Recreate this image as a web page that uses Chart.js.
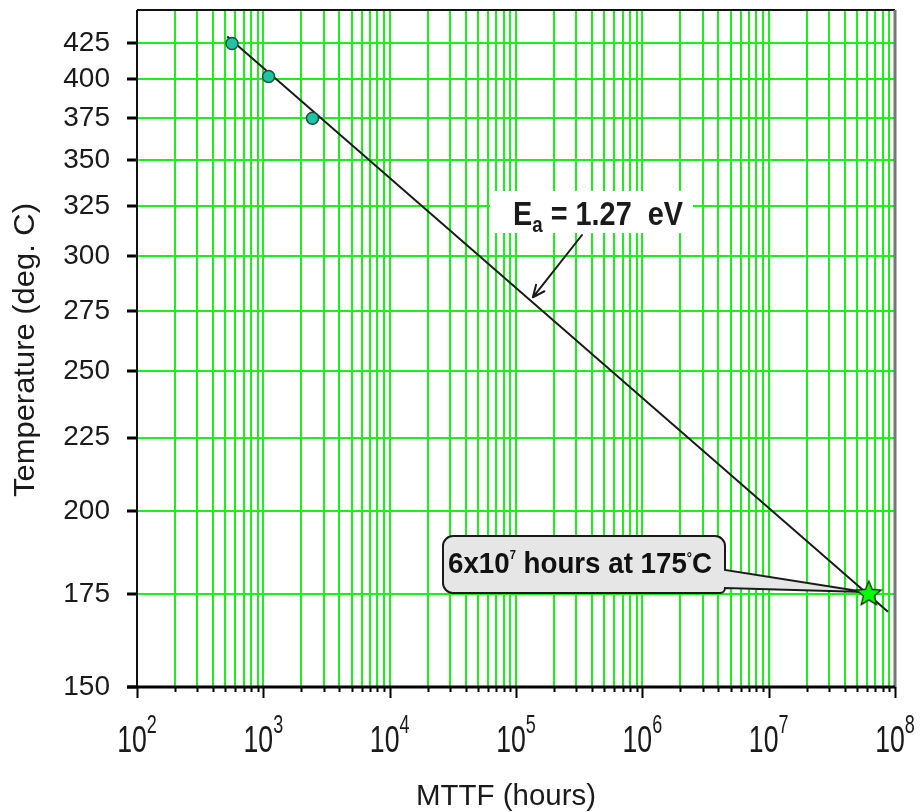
<!DOCTYPE html>
<html>
<head>
<meta charset="utf-8">
<script src="https://cdn.jsdelivr.net/npm/chart.js@4.4.0/dist/chart.umd.min.js"></script>
<style>
  html, body { margin: 0; padding: 0; background: #fff; }
  canvas { display: block; }
</style>
</head>
<body>
<canvas id="chart" width="920" height="812"></canvas>
<script>
// test results
const testTemps = [425, 402, 375];
const testHours = [565, 1100, 2450];
// extrapolated use condition
const useTemps = [175];
const useHours = [6.2e7];
// fitted line, end points
const fitTemps = [430, 170];
const fitHours = [518, 8.8e7];

// axes
const tempTicks = [150, 175, 200, 225, 250, 275, 300, 325, 350, 375, 400, 425];
const tempRange = [150, 450];
const hourRange = [1e2, 1e8];
const hourDecades = [2, 3, 4, 5, 6, 7, 8];
const hourMantissas = [1, 2, 3, 4, 5, 6, 7, 8, 9];

// reciprocal temperature axis (offset fitted to the original tick spacing)
const T_OFFSET = 250;
const recip = t => 1000 / (t + T_OFFSET);
const fromRecip = v => 1000 / v - T_OFFSET;

const hourTicks = [];
hourDecades.forEach(e => {
  hourMantissas.forEach(m => {
    const v = m * Math.pow(10, e);
    if (v <= hourRange[1]) hourTicks.push({ value: v, major: m === 1 });
  });
});

const toPts = (hours, temps) => hours.map((h, i) => ({ x: h, y: recip(temps[i]) }));

const GRID = '#1bf01b';
const FONT = '"Liberation Sans", Arial, sans-serif';

function starImage(r, fill) {
  const c = document.createElement('canvas');
  const s = Math.ceil(r * 2 + 4);
  c.width = c.height = s;
  const g = c.getContext('2d');
  g.beginPath();
  for (let i = 0; i < 10; i++) {
    const rad = i % 2 ? r * 0.45 : r;
    const a = -Math.PI / 2 + i * Math.PI / 5;
    g.lineTo(s / 2 + rad * Math.cos(a), s / 2 + rad * Math.sin(a));
  }
  g.closePath();
  g.fillStyle = fill;
  g.fill();
  g.lineWidth = 1.3;
  g.strokeStyle = '#0d300d';
  g.stroke();
  return c;
}

// draws a run of text pieces, squeezed horizontally by sx
function drawRich(ctx, parts, x, y, sx, align) {
  ctx.save();
  let natural = 0;
  parts.forEach(p => {
    ctx.font = p.font;
    p.w = ctx.measureText(p.text).width;
    natural += p.w;
  });
  ctx.translate(x, y);
  ctx.scale(sx, 1);
  let cx = align === 'center' ? -natural / 2 : 0;
  ctx.textBaseline = 'alphabetic';
  ctx.textAlign = 'left';
  parts.forEach(p => {
    ctx.font = p.font;
    ctx.fillText(p.text, cx, p.dy || 0);
    cx += p.w;
  });
  ctx.restore();
  return natural * sx;
}

function fitWidth(ctx, parts, target) {
  let natural = 0;
  parts.forEach(p => { ctx.font = p.font; natural += ctx.measureText(p.text).width; });
  return target / natural;
}

const annotations = {
  id: 'annotations',
  beforeDatasetsDraw(chart) {
    const ctx = chart.ctx;
    const x = chart.scales.x, y = chart.scales.y;

    // Ea label
    ctx.save();
    ctx.fillStyle = '#fff';
    ctx.fillRect(490, 191, 203, 42);
    const ea = [
      { text: 'E', font: 'bold 34px ' + FONT },
      { text: 'a', font: 'bold 22px ' + FONT, dy: 7 },
      { text: ' = 1.27  eV', font: 'bold 34px ' + FONT }
    ];
    ctx.fillStyle = '#1a1a1a';
    drawRich(ctx, ea, 513, 225, fitWidth(ctx, ea, 170));

    // arrow to the fitted line
    const tipX = x.getPixelForValue(1.36e5), tipY = y.getPixelForValue(recip(281));
    const sx0 = 582, sy0 = 235;
    ctx.strokeStyle = '#1a1a1a';
    ctx.lineWidth = 2;
    ctx.lineCap = 'round';
    ctx.beginPath();
    ctx.moveTo(sx0, sy0);
    ctx.lineTo(tipX, tipY);
    const ang = Math.atan2(tipY - sy0, tipX - sx0);
    [0.42, -0.42].forEach(d => {
      ctx.moveTo(tipX, tipY);
      ctx.lineTo(tipX - 13 * Math.cos(ang + d), tipY - 13 * Math.sin(ang + d));
    });
    ctx.stroke();

    // callout to the use condition
    const px = x.getPixelForValue(useHours[0]) - 4;
    const py = y.getPixelForValue(recip(useTemps[0])) - 2;
    const L = 443, R = 725, T = 536, B = 593, r = 10;
    ctx.beginPath();
    ctx.moveTo(L + r, T);
    ctx.arcTo(R, T, R, T + r, r);
    ctx.lineTo(R, 570);
    ctx.lineTo(px, py);
    ctx.lineTo(R, 588);
    ctx.arcTo(R, B, R - r, B, 5);
    ctx.arcTo(L, B, L, B - r, r);
    ctx.arcTo(L, T, L + r, T, r);
    ctx.closePath();
    ctx.fillStyle = '#e6e6e6';
    ctx.fill();
    ctx.lineWidth = 2;
    ctx.strokeStyle = '#1a1a1a';
    ctx.stroke();
    const co = [
      { text: '6x10', font: 'bold 30px ' + FONT },
      { text: '7', font: 'bold 12px ' + FONT, dy: -14 },
      { text: ' hours at 175', font: 'bold 30px ' + FONT },
      { text: '°', font: 'bold 14px ' + FONT, dy: -10 },
      { text: 'C', font: 'bold 30px ' + FONT }
    ];
    ctx.fillStyle = '#111';
    drawRich(ctx, co, 448, 573, fitWidth(ctx, co, 264));
    ctx.restore();
  },
  afterDraw(chart) {
    const ctx = chart.ctx;
    const a = chart.chartArea;
    const x = chart.scales.x;
    ctx.save();

    // x ticks
    ctx.strokeStyle = '#000';
    ctx.lineWidth = 2;
    ctx.beginPath();
    x.ticks.forEach(t => {
      const p = Math.round(x.getPixelForValue(t.value)) + 0.5;
      ctx.moveTo(p, a.bottom);
      ctx.lineTo(p, a.bottom + (t.major ? 11 : 5));
    });
    ctx.stroke();

    // frame
    ctx.lineWidth = 2;
    ctx.strokeStyle = '#111';
    ctx.beginPath();
    ctx.moveTo(a.left, a.top);
    ctx.lineTo(a.right, a.top);
    ctx.moveTo(a.left, a.top);
    ctx.lineTo(a.left, a.bottom);
    ctx.stroke();
    ctx.strokeStyle = '#777';
    ctx.lineWidth = 3;
    ctx.beginPath();
    ctx.moveTo(a.right, a.top);
    ctx.lineTo(a.right, a.bottom);
    ctx.stroke();
    ctx.strokeStyle = '#000';
    ctx.beginPath();
    ctx.moveTo(a.left - 10, a.bottom);
    ctx.lineTo(a.right, a.bottom);
    ctx.stroke();

    // decade labels with superscripts
    ctx.fillStyle = '#1a1a1a';
    hourDecades.forEach(e => {
      const p = x.getPixelForValue(Math.pow(10, e));
      drawRich(ctx, [
        { text: '10', font: '37px ' + FONT },
        { text: String(e), font: '25px ' + FONT, dy: -19 }
      ], p, 752, 0.72, 'center');
    });

    // axis titles
    const xt = [{ text: 'MTTF (hours)', font: '30px ' + FONT }];
    drawRich(ctx, xt, 506, 805, fitWidth(ctx, xt, 180), 'center');
    ctx.translate(34, 350);
    ctx.rotate(-Math.PI / 2);
    const yt = [{ text: 'Temperature (deg. C)', font: '29px ' + FONT }];
    drawRich(ctx, yt, 0, 0, fitWidth(ctx, yt, 294), 'center');
    ctx.restore();
  }
};

new Chart(document.getElementById('chart'), {
  type: 'scatter',
  data: {
    datasets: [
      {
        label: 'fit',
        data: toPts(fitHours, fitTemps),
        showLine: true,
        borderColor: '#1a1a1a',
        borderWidth: 2,
        pointRadius: 0,
        order: 3
      },
      {
        label: 'test',
        data: toPts(testHours, testTemps),
        pointRadius: 6,
        pointBackgroundColor: '#1ec4a4',
        pointBorderColor: '#1d4d3d',
        pointBorderWidth: 1.5,
        order: 1
      },
      {
        label: 'use',
        data: toPts(useHours, useTemps),
        pointStyle: starImage(13, '#00ff00'),
        order: 0
      }
    ]
  },
  options: {
    responsive: false,
    devicePixelRatio: 1,
    animation: false,
    layout: { padding: { top: 10, right: 25, left: 0, bottom: 0 } },
    plugins: { legend: { display: false }, tooltip: { enabled: false } },
    scales: {
      x: {
        type: 'logarithmic',
        min: hourRange[0],
        max: hourRange[1],
        afterBuildTicks: s => { s.ticks = hourTicks.map(t => ({ ...t })); },
        ticks: { autoSkip: false, maxRotation: 0, callback: () => '' },
        grid: { color: GRID, lineWidth: 2, drawTicks: false },
        border: { display: false },
        afterFit: s => { s.height = 125; s.paddingLeft = 0; s.paddingRight = 0; }
      },
      y: {
        type: 'linear',
        reverse: true,
        min: recip(tempRange[1]),
        max: recip(tempRange[0]),
        afterBuildTicks: s => { s.ticks = tempTicks.map(t => ({ value: recip(t) })); },
        ticks: {
          autoSkip: false,
          padding: 17,
          color: '#1a1a1a',
          font: { family: FONT, size: 28 },
          callback: v => String(Math.round(fromRecip(v)))
        },
        grid: { color: GRID, lineWidth: 2, tickColor: '#000', tickLength: 10, tickWidth: 3 },
        border: { display: false },
        afterFit: s => { s.width = 137; s.paddingTop = 0; s.paddingBottom = 0; }
      }
    }
  },
  plugins: [annotations]
});
</script>
</body>
</html>
